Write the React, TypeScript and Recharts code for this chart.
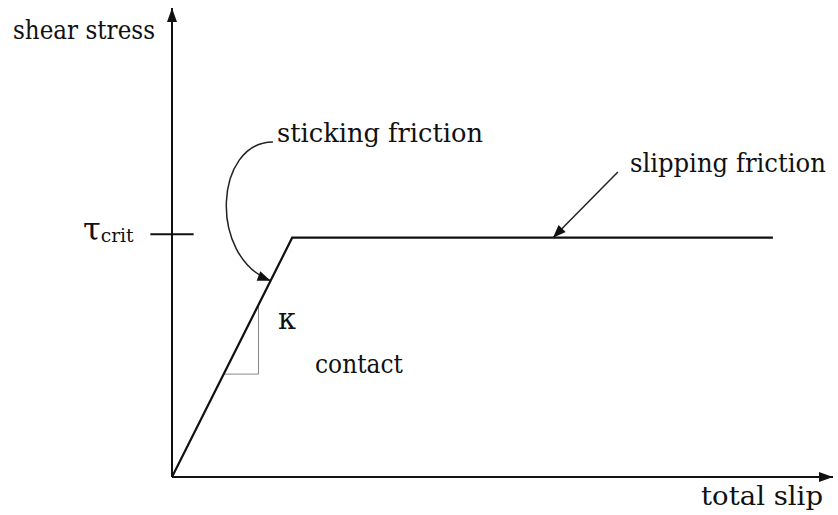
import React from "react";
import { LineChart, Line, XAxis, YAxis, ReferenceLine, ReferenceDot } from "recharts";

// friction law: linear sticking branch up to tau_crit, then slipping plateau
const slip = [0, 1, 5];
const stress = [0, 1, 1];
const lawData = slip.map((x, i) => ({ x, y: stress[i] }));

// slope triangle marking kappa
const triX = [0.43, 0.72, 0.72];
const triY = [0.43, 0.43, 0.72];
const triData = triX.map((x, i) => ({ x, y: triY[i] }));

const tauCritTick = 1.015;
const xMax = 5.5;
const yMax = 1.96;

const FONT = "DejaVu Serif, Liberation Serif, serif";

const arrowHead = (tx: number, ty: number, dx: number, dy: number, len = 13, half = 5) => {
  const d = Math.hypot(dx, dy) || 1;
  const ux = dx / d;
  const uy = dy / d;
  const bx = tx - ux * len;
  const by = ty - uy * len;
  return `${tx},${ty} ${bx - uy * half},${by + ux * half} ${bx + uy * half},${by - ux * half}`;
};

const AxisArrow = (props: any) => {
  const { x1, y1, x2, y2 } = props;
  return (
    <g>
      <line x1={x1} y1={y1} x2={x2} y2={y2} stroke="#111" strokeWidth={2} />
      <polygon points={arrowHead(x2, y2, x2 - x1, y2 - y1, 14, 5)} fill="#111" />
    </g>
  );
};

const StraightArrow = (props: any) => {
  const { x1, y1, x2, y2 } = props;
  return (
    <g>
      <line x1={x1} y1={y1} x2={x2} y2={y2} stroke="#222" strokeWidth={1.5} />
      <polygon points={arrowHead(x2, y2, x2 - x1, y2 - y1)} fill="#111" />
    </g>
  );
};

const CurvedArrow = (props: any) => {
  const { x1, y1, x2, y2 } = props;
  const c1x = x1 - 58;
  const c1y = y1;
  const c2x = x2 - 63;
  const c2y = y2 - 25;
  return (
    <g>
      <path
        d={`M${x1},${y1} C${c1x},${c1y} ${c2x},${c2y} ${x2},${y2}`}
        fill="none"
        stroke="#222"
        strokeWidth={1.5}
      />
      <polygon points={arrowHead(x2, y2, x2 - c2x, y2 - c2y)} fill="#111" />
    </g>
  );
};

const TickMark = (props: any) => {
  const { x1, y1, x2, y2 } = props;
  return <line x1={x1} y1={y1} x2={x2} y2={y2} stroke="#111" strokeWidth={2} />;
};

const label = (text: string, width: number, size = 26) => (props: any) => (
  <text
    x={props.cx}
    y={props.cy}
    fontFamily={FONT}
    fontSize={size}
    fill="#111"
    textLength={width}
    lengthAdjust="spacingAndGlyphs"
  >
    {text}
  </text>
);

const TauCrit = (props: any) => (
  <text x={props.cx} y={props.cy} fontFamily={FONT} fill="#111">
    <tspan fontSize={32}>τ</tspan>
    <tspan fontSize={19} dy={2} textLength={33} lengthAdjust="spacingAndGlyphs">crit</tspan>
  </text>
);

export default function App() {
  return (
    <div style={{ position: "absolute", left: 0, top: 0, background: "#fff" }}>
      <LineChart
        width={838}
        height={515}
        data={lawData}
        margin={{ top: 8, right: 5, left: 172, bottom: 38 }}
      >
        <XAxis dataKey="x" type="number" domain={[0, xMax]} hide />
        <YAxis type="number" domain={[0, yMax]} hide />

        <ReferenceLine segment={[{ x: 0, y: 0 }, { x: 0, y: yMax }]} ifOverflow="visible" shape={AxisArrow} />
        <ReferenceLine segment={[{ x: 0, y: 0 }, { x: xMax, y: 0 }]} ifOverflow="visible" shape={AxisArrow} />
        <ReferenceLine
          segment={[{ x: -0.18, y: tauCritTick }, { x: 0.18, y: tauCritTick }]}
          ifOverflow="visible"
          shape={TickMark}
        />

        <Line
          data={triData}
          dataKey="y"
          stroke="#888"
          strokeWidth={1}
          dot={false}
          isAnimationActive={false}
        />
        <Line
          dataKey="y"
          stroke="#111"
          strokeWidth={2.2}
          dot={false}
          strokeLinejoin="miter"
          isAnimationActive={false}
        />

        <ReferenceLine
          segment={[{ x: 0.84, y: 1.4 }, { x: 0.82, y: 0.82 }]}
          ifOverflow="visible"
          shape={CurvedArrow}
        />
        <ReferenceLine
          segment={[{ x: 3.71, y: 1.275 }, { x: 3.17, y: 1.0 }]}
          ifOverflow="visible"
          shape={StraightArrow}
        />

        <ReferenceDot x={-1.323} y={1.83} ifOverflow="visible" shape={label("shear stress", 142)} />
        <ReferenceDot x={4.402} y={-0.117} ifOverflow="visible" shape={label("total slip", 122)} />
        <ReferenceDot x={0.874} y={1.4} ifOverflow="visible" shape={label("sticking friction", 206)} />
        <ReferenceDot x={3.81} y={1.275} ifOverflow="visible" shape={label("slipping friction", 196)} />
        <ReferenceDot x={1.19} y={0.435} ifOverflow="visible" shape={label("contact", 88)} />
        <ReferenceDot x={0.882} y={0.619} ifOverflow="visible" shape={label("κ", 18, 30)} />
        <ReferenceDot x={-0.741} y={0.99} ifOverflow="visible" shape={TauCrit} />
      </LineChart>
    </div>
  );
}
